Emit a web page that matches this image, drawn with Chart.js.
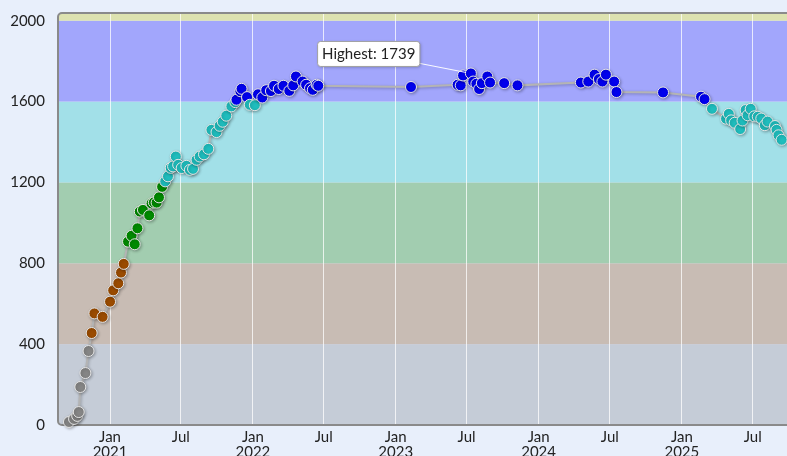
<!DOCTYPE html>
<html>
<head>
<meta charset="utf-8">
<script src="https://cdn.jsdelivr.net/npm/chart.js@4/dist/chart.umd.min.js"></script>
<style>
  html, body { margin: 0; padding: 0; background: #e8effb; overflow: hidden; }
  #wrap { width: 787px; height: 456px; position: relative; overflow: hidden; }
</style>
</head>
<body>
<div id="wrap"><canvas id="c" width="794" height="456"></canvas></div>
<script>
// Rating history: game dates and ratings
const gameDates = [
  '2020-09-18','2020-10-01','2020-10-09','2020-10-13','2020-10-17','2020-10-30','2020-11-07','2020-11-15','2020-11-22','2020-12-13',
  '2021-01-01','2021-01-09','2021-01-22','2021-01-29','2021-02-05','2021-02-16','2021-02-25','2021-03-05','2021-03-12','2021-03-18',
  '2021-03-26','2021-04-11','2021-04-17','2021-04-23','2021-04-30','2021-05-06','2021-05-14','2021-05-22','2021-05-29','2021-06-05',
  '2021-06-11','2021-06-18','2021-06-24','2021-07-03','2021-07-15','2021-07-24','2021-08-01','2021-08-10','2021-08-18','2021-08-29',
  '2021-09-09','2021-09-17','2021-09-30','2021-10-08','2021-10-16','2021-10-25','2021-11-07','2021-11-17','2021-11-20','2021-11-30',
  '2021-12-03','2021-12-17','2021-12-24','2022-01-06','2022-01-14','2022-01-25','2022-02-04','2022-02-16','2022-02-24','2022-03-08',
  '2022-03-20','2022-04-04','2022-04-14','2022-04-21','2022-05-08','2022-05-17','2022-05-27','2022-06-03','2022-06-13','2022-06-17',
  '2023-02-09','2023-06-08','2023-06-16','2023-06-22','2023-07-12','2023-07-18','2023-07-26','2023-08-02','2023-08-09','2023-08-23',
  '2023-08-30','2023-10-05','2023-11-08','2024-04-18','2024-05-07','2024-05-23','2024-06-03','2024-06-12','2024-06-21','2024-07-12',
  '2024-07-18','2024-11-14','2025-02-19','2025-02-28','2025-03-19','2025-04-24','2025-05-01','2025-05-07','2025-05-16','2025-05-30',
  '2025-06-05','2025-06-13','2025-06-18','2025-06-26','2025-07-05','2025-07-14','2025-07-23','2025-08-01','2025-08-08','2025-08-27',
  '2025-08-31','2025-09-05','2025-09-13'
];
const ratings = [
  15, 30, 45, 64, 188, 257, 366, 455, 552, 535,
  610, 666, 701, 754, 797, 907, 936, 894, 973, 1056,
  1064, 1037, 1096, 1101, 1100, 1126, 1178, 1205, 1230, 1272,
  1279, 1328, 1287, 1271, 1282, 1262, 1267, 1312, 1328, 1339,
  1366, 1460, 1449, 1480, 1500, 1530, 1576, 1597, 1609, 1651,
  1663, 1622, 1584, 1582, 1636, 1620, 1656, 1652, 1678, 1662,
  1678, 1653, 1680, 1724, 1699, 1683, 1666, 1658, 1683, 1678,
  1672, 1683, 1680, 1729, 1739, 1699, 1688, 1662, 1691, 1724,
  1694, 1691, 1680, 1694, 1699, 1733, 1711, 1699, 1733, 1699,
  1647, 1645, 1624, 1612, 1564, 1515, 1539, 1507, 1495, 1464,
  1506, 1558, 1532, 1564, 1527, 1525, 1516, 1483, 1501, 1479,
  1460, 1433, 1411
];

// Axis ticks
const xTickDates = ['2021-01-01','2021-07-01','2022-01-01','2022-07-01','2023-01-01','2023-07-01','2024-01-01','2024-07-01','2025-01-01','2025-07-01'];
const xTickLabels = [['Jan','2021'],'Jul',['Jan','2022'],'Jul',['Jan','2023'],'Jul',['Jan','2024'],'Jul',['Jan','2025'],'Jul'];
const yTicks = [0, 400, 800, 1200, 1600, 2000];
const xRange = ['2020-08-21', '2025-09-28'];
const yRange = [0, 2038];

// Rating bands: lower bound, background colour, point colour
const bandFloors = [0, 400, 800, 1200, 1600, 2000];
const bandFills = ['#c5ccd7', '#c8bcb4', '#a2cdb0', '#a2e0e8', '#a2a6fc', '#dde2b0'];
const bandPoints = ['#858585', '#9a4b00', '#008a00', '#1fbdbd', '#0000ee', '#c8c800'];

function bandOf(v) {
  let b = 0;
  for (let i = 0; i < bandFloors.length; i++) if (v >= bandFloors[i]) b = i;
  return b;
}

const points = gameDates.map((d, i) => ({ x: Date.parse(d), y: ratings[i] }));

const bandsPlugin = {
  id: 'bands',
  beforeDraw(chart) {
    const { ctx, chartArea: a, scales: { y } } = chart;
    ctx.save();
    ctx.beginPath();
    ctx.roundRect(a.left, a.top, a.right - a.left + 10, a.bottom - a.top, [4, 0, 0, 4]);
    ctx.clip();
    for (let i = 0; i < bandFloors.length; i++) {
      const lo = y.getPixelForValue(bandFloors[i]);
      const hi = i + 1 < bandFloors.length ? y.getPixelForValue(bandFloors[i + 1]) : a.top;
      ctx.fillStyle = bandFills[i];
      ctx.fillRect(a.left, hi, a.right - a.left, lo - hi);
    }
    ctx.restore();
  },
  beforeDatasetsDraw(chart) {
    const { ctx, chartArea: a } = chart;
    ctx.save();
    ctx.strokeStyle = '#8a8a8a';
    ctx.lineWidth = 2;
    ctx.beginPath();
    ctx.moveTo(a.right + 5, a.top);
    ctx.lineTo(a.left + 4, a.top);
    ctx.arcTo(a.left, a.top, a.left, a.top + 4, 4);
    ctx.lineTo(a.left, a.bottom - 4);
    ctx.arcTo(a.left, a.bottom, a.left + 4, a.bottom, 4);
    ctx.lineTo(a.right + 5, a.bottom);
    ctx.stroke();
    ctx.restore();
  }
};

const shadowPlugin = {
  id: 'markShadow',
  beforeDatasetDraw(chart) {
    const ctx = chart.ctx;
    ctx.save();
    ctx.shadowColor = 'rgba(0,0,0,0.28)';
    ctx.shadowBlur = 3;
    ctx.shadowOffsetX = 1;
    ctx.shadowOffsetY = 1;
  },
  afterDatasetDraw(chart) {
    chart.ctx.restore();
  }
};

// Callout for the best rating
const highestPlugin = {
  id: 'highest',
  afterDatasetsDraw(chart) {
    const { ctx } = chart;
    let idx = 0;
    ratings.forEach((v, i) => { if (v > ratings[idx]) idx = i; });
    const el = chart.getDatasetMeta(0).data[idx];
    const px = el.x, py = el.y;
    const text = 'Highest: ' + ratings[idx];
    ctx.save();
    ctx.font = '15px Lato, "Open Sans", sans-serif';
    const w = ctx.measureText(text).width + 9;
    const h = 25;
    const right = px - 51, top = py - 32;
    const left = right - w;
    ctx.strokeStyle = 'rgba(255,255,255,0.95)';
    ctx.lineWidth = 1;
    ctx.beginPath();
    ctx.moveTo(right, top + h - 3);
    ctx.lineTo(px - 5, py - 1);
    ctx.stroke();
    ctx.shadowColor = 'rgba(0,0,0,0.25)';
    ctx.shadowBlur = 3;
    ctx.shadowOffsetX = 1;
    ctx.shadowOffsetY = 1;
    ctx.fillStyle = '#ffffff';
    ctx.beginPath();
    ctx.roundRect(left, top, w, h, 3);
    ctx.fill();
    ctx.shadowColor = 'transparent';
    ctx.strokeStyle = '#a0a0a0';
    ctx.stroke();
    ctx.fillStyle = '#222';
    ctx.textBaseline = 'middle';
    ctx.textAlign = 'center';
    ctx.fillText(text, left + w / 2, top + h / 2 + 0.5);
    ctx.restore();
  }
};

new Chart(document.getElementById('c'), {
  type: 'line',
  data: {
    datasets: [{
      data: points,
      borderColor: '#b4b4b4',
      borderWidth: 2,
      tension: 0,
      pointRadius: 5.5,
      pointBorderWidth: 1,
      pointBorderColor: '#e6e6e6',
      pointBackgroundColor: points.map(p => bandPoints[bandOf(p.y)]),
      clip: false
    }]
  },
  plugins: [bandsPlugin, shadowPlugin, highestPlugin],
  options: {
    responsive: false,
    animation: false,
    layout: { padding: { top: 13, right: 0, left: 0, bottom: 0 } },
    plugins: { legend: { display: false }, tooltip: { enabled: false } },
    scales: {
      x: {
        type: 'linear',
        min: Date.parse(xRange[0]),
        max: Date.parse(xRange[1]),
        afterBuildTicks: s => { s.ticks = xTickDates.map(d => ({ value: Date.parse(d) })); },
        afterFit: s => { s.height = 31; s.paddingLeft = 0; s.paddingRight = 0; },
        ticks: {
          autoSkip: false,
          maxRotation: 0,
          padding: 4,
          color: '#222',
          font: { family: 'Lato, "Open Sans", sans-serif', size: 15, lineHeight: 1.05 },
          callback: (v, i) => xTickLabels[i]
        },
        grid: { color: 'rgba(255,255,255,0.75)', lineWidth: 1, drawTicks: false },
        border: { display: false }
      },
      y: {
        min: yRange[0],
        max: yRange[1],
        afterBuildTicks: s => { s.ticks = yTicks.map(v => ({ value: v })); },
        afterFit: s => { s.width = 58; s.paddingTop = 0; s.paddingBottom = 0; },
        ticks: {
          padding: 13,
          color: '#222',
          font: { family: 'Lato, "Open Sans", sans-serif', size: 15 },
          callback: v => String(v)
        },
        grid: { display: false, drawTicks: false },
        border: { display: false }
      }
    }
  }
});
</script>
</body>
</html>
